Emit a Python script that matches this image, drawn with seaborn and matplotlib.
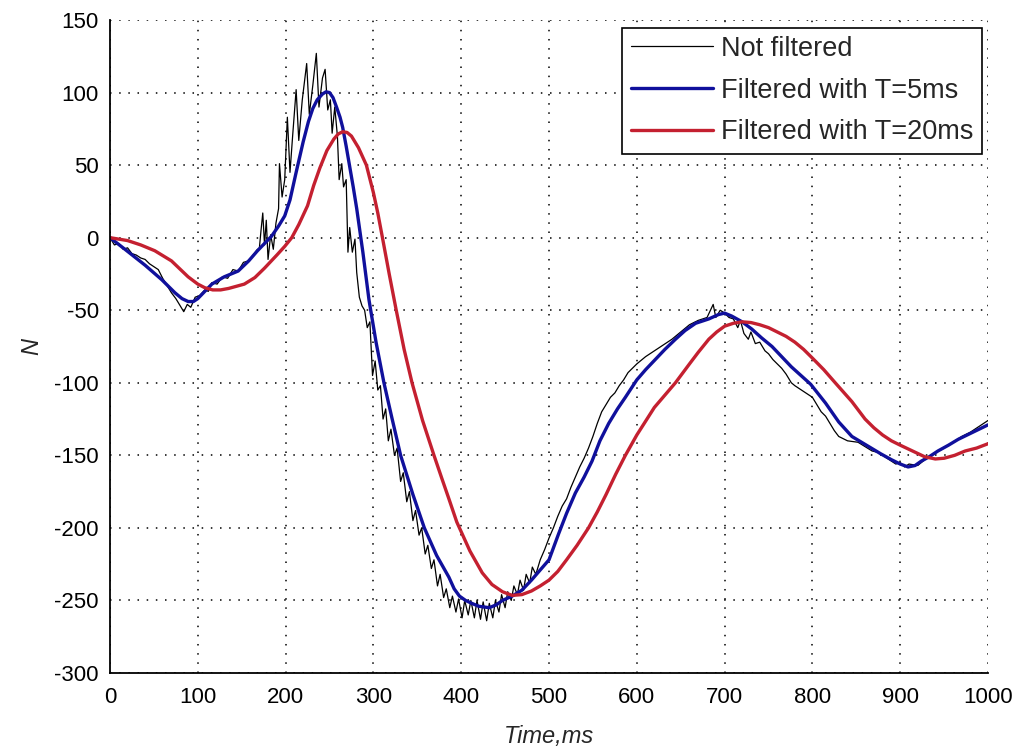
import numpy as np
import pandas as pd
import matplotlib
matplotlib.use("Agg")
import matplotlib.pyplot as plt
import seaborn as sns

# ---- data ----
raw_t = [0, 5, 10, 15, 20, 25, 30, 35, 40, 45, 50, 55, 60, 65, 70, 75, 80, 84, 88, 92, 97,
         102, 108, 112, 116, 122, 128, 134, 140, 146, 152, 158, 163, 168, 170, 172, 174, 176,
         178, 180, 183, 186, 189, 192, 193, 196, 199, 202, 205, 208, 212, 215, 219, 224, 227,
         231, 235, 238, 242, 245, 248, 251, 253, 256, 259, 261, 264, 266, 269, 271, 273, 276,
         279, 281, 284, 287, 290, 293, 296, 299, 302, 305, 308, 311, 314, 317, 320, 324, 327,
         331, 334, 338, 341, 345, 348, 352, 355, 359, 362, 366, 369, 373, 376, 380, 383, 387,
         390, 394, 397, 401, 404, 408, 411, 415, 418, 422, 425, 429, 432, 436, 439, 443, 446,
         450, 453, 457, 460, 464, 467, 471, 474, 478, 481, 485, 490, 495, 500, 505, 510, 515,
         520, 525, 530, 535, 540, 545, 550, 555, 560, 565, 570, 575, 580, 585, 590, 595, 600,
         610, 620, 630, 640, 650, 660, 670, 680, 687, 690, 695, 700, 705, 710, 715, 718, 722,
         727, 730, 735, 740, 746, 750, 755, 760, 765, 770, 776, 780, 785, 790, 795, 800, 805,
         810, 815, 820, 825, 830, 840, 852, 860, 868, 875, 885, 895, 900, 905, 910, 920, 930,
         940, 950, 960, 970, 980, 990, 1000]
raw_n = [0, -5, -4, -8, -7, -11, -12, -14, -15, -18, -20, -22, -28, -33, -38, -42, -47, -51, -46, -48, -41,
         -40, -36, -37, -31, -32, -27, -28, -22, -23, -17, -16, -12, -8, -8, 5, 17, -5,
         12, -15, 2, -8, 10, 20, 51, 28, 40, 83, 45, 70, 102, 67, 95, 120, 85,
         105, 127, 90, 110, 116, 88, 95, 72, 90, 70, 40, 51, 35, 40, -10, 7, -10,
         -1, -24, -41, -47, -50, -62, -58, -95, -85, -105, -102, -125, -118, -140, -132, -150, -145,
         -168, -162, -182, -175, -195, -188, -205, -200, -218, -212, -228, -222, -240, -232, -248, -242, -255,
         -247, -258, -249, -262, -250, -260, -250, -262, -250, -263, -251, -264, -252, -262, -250, -258, -246,
         -255, -244, -250, -240, -246, -236, -243, -232, -238, -227, -232, -222, -215, -207, -200, -192, -185,
         -180, -172, -165, -158, -152, -145, -137, -128, -120, -115, -110, -107, -102, -98, -93, -90, -87,
         -82, -78, -74, -70, -65, -60, -57, -55, -46, -55, -50, -52, -55, -56, -62, -57, -66,
         -70, -65, -73, -72, -78, -80, -84, -87, -90, -94, -100, -102, -104, -106, -108, -110, -115,
         -120, -123, -128, -133, -137, -140, -141, -144, -147, -148, -152, -156, -155, -158, -156, -157, -152,
         -148, -145, -141, -137, -134, -130, -126]

t5_t = [0, 17, 40, 59, 74, 82, 89, 95, 100, 108, 116, 130, 146, 158, 168, 176, 184, 192, 199,
        205, 212, 220, 226, 231, 236, 242, 246, 250, 254, 258, 262, 265, 269, 273, 277, 281,
        288, 295, 303, 312, 321, 331, 345, 358, 372, 386, 392, 398, 405, 412, 420, 432, 440,
        447, 458, 469, 480, 490, 500, 511, 520, 530, 540, 549, 558, 568, 578, 587, 600, 610,
        621, 632, 644, 655, 667, 682, 693, 700, 708, 720, 731, 742, 754, 765, 776, 787, 798,
        815, 830, 845, 856, 867, 878, 890, 900, 909, 917, 924, 933, 943, 955, 966, 983, 1000]
t5_n = [0, -8, -19, -29, -38, -42, -44, -44, -42, -37, -32, -27, -23, -16, -9, -4, 1, 8, 15,
        26, 45, 66, 80, 89, 95, 99, 100.5, 100, 96.5, 90, 83, 76, 63, 49, 35, 20,
        -10, -43, -72, -100, -124, -150, -177, -200, -219, -234, -242, -247, -250, -252, -254, -255, -253,
        -250, -247, -243, -236, -229, -222, -204, -190, -176, -165, -154, -140, -128, -118, -110, -98, -91,
        -84, -77, -70, -64, -59, -56, -53, -52, -54, -58, -63, -69, -75, -82, -89, -95, -101,
        -114, -127, -137, -141, -145, -149, -153, -156, -158, -157, -154, -151, -147, -143, -139, -134, -129]

t20_t = [0, 20, 35, 51, 70, 89, 100, 108, 117, 126, 135, 153, 165, 176, 190, 199, 207, 215,
         225, 232, 239, 247, 255, 260, 265, 270, 275, 283, 292, 300, 305, 310, 318, 326, 335,
         344, 356, 369, 378, 386, 395, 410, 424, 435, 447, 458, 469, 480, 490, 500, 510, 520,
         532, 545, 555, 565, 576, 587, 600, 620, 644, 660, 670, 682, 691, 700, 710, 720, 730,
         740, 750, 760, 770, 780, 790, 800, 813, 826, 845, 860, 870, 880, 890, 900, 914, 928,
         940, 950, 962, 974, 987, 1000]
t20_n = [0, -2, -5, -9, -16, -27, -32, -34.5, -36, -36, -35, -32, -27.5, -21, -12, -6, 0, 9,
         22, 36, 48, 60, 68, 71.5, 73, 72.5, 70, 62, 50, 31, 17, 1, -25, -50, -77,
         -100, -126, -150, -166, -180, -196, -216, -231, -239, -244, -246.5, -246, -243.5, -240, -236, -230, -222,
         -212, -200, -189, -177, -163, -150, -136, -117, -100, -87, -79, -70, -65, -61, -59, -58, -58.5,
         -60, -62, -65, -68, -72, -77, -83, -91, -100, -113, -125, -131, -136, -140, -143, -147, -151,
         -152.5, -152, -150, -147, -145, -142]

labels = ["Not filtered", "Filtered with T=5ms", "Filtered with T=20ms"]
colors = ["#000000", "#10109c", "#c42030"]
widths = [0.9, 2.4, 2.4]

xticks = list(range(0, 1001, 100))
yticks = list(range(-300, 151, 50))

sns.set_style("white")
plt.rcParams["font.family"] = ["Liberation Sans", "DejaVu Sans"]
plt.rcParams["axes.unicode_minus"] = False

fig = plt.figure(figsize=(10.23, 7.55), dpi=100)
ax = fig.add_axes([110 / 1023, (755 - 673) / 755, 878 / 1023, 653 / 755])

series = [(raw_t, raw_n), (t5_t, t5_n), (t20_t, t20_n)]
for (tt, nn), lab, c, w in zip(series, labels, colors, widths):
    df = pd.DataFrame({"t": tt, "n": nn})
    sns.lineplot(data=df, x="t", y="n", ax=ax, color=c, linewidth=w, label=lab,
                 estimator=None, sort=False)

ax.set_xlim(0, 1000)
ax.set_ylim(-300, 150)
ax.set_xticks(xticks)
ax.set_yticks(yticks)
ax.tick_params(direction="in", length=7, width=1, labelsize=16, colors="black")
ax.tick_params(axis="x", pad=10)
ax.tick_params(axis="y", pad=8)
ax.grid(True, color="black", linestyle=(0, (1, 5)), linewidth=1.1)
for s in ["top", "right"]:
    ax.spines[s].set_visible(False)
for s in ["left", "bottom"]:
    ax.spines[s].set_color("black")
    ax.spines[s].set_linewidth(1.3)

ax.set_xlabel("Time,ms", fontsize=17, style="italic", labelpad=12)
ax.set_ylabel("N", fontsize=17, style="italic", labelpad=8)

leg = ax.legend(loc="upper right", bbox_to_anchor=(0.993, 0.988), borderaxespad=0,
                fontsize=19.5, frameon=True, fancybox=False, framealpha=1,
                edgecolor="black", handlelength=3.05, handletextpad=0.3,
                labelspacing=0.58, borderpad=0.3)
leg.get_frame().set_linewidth(1.2)

fig.savefig("out.png", dpi=100)
